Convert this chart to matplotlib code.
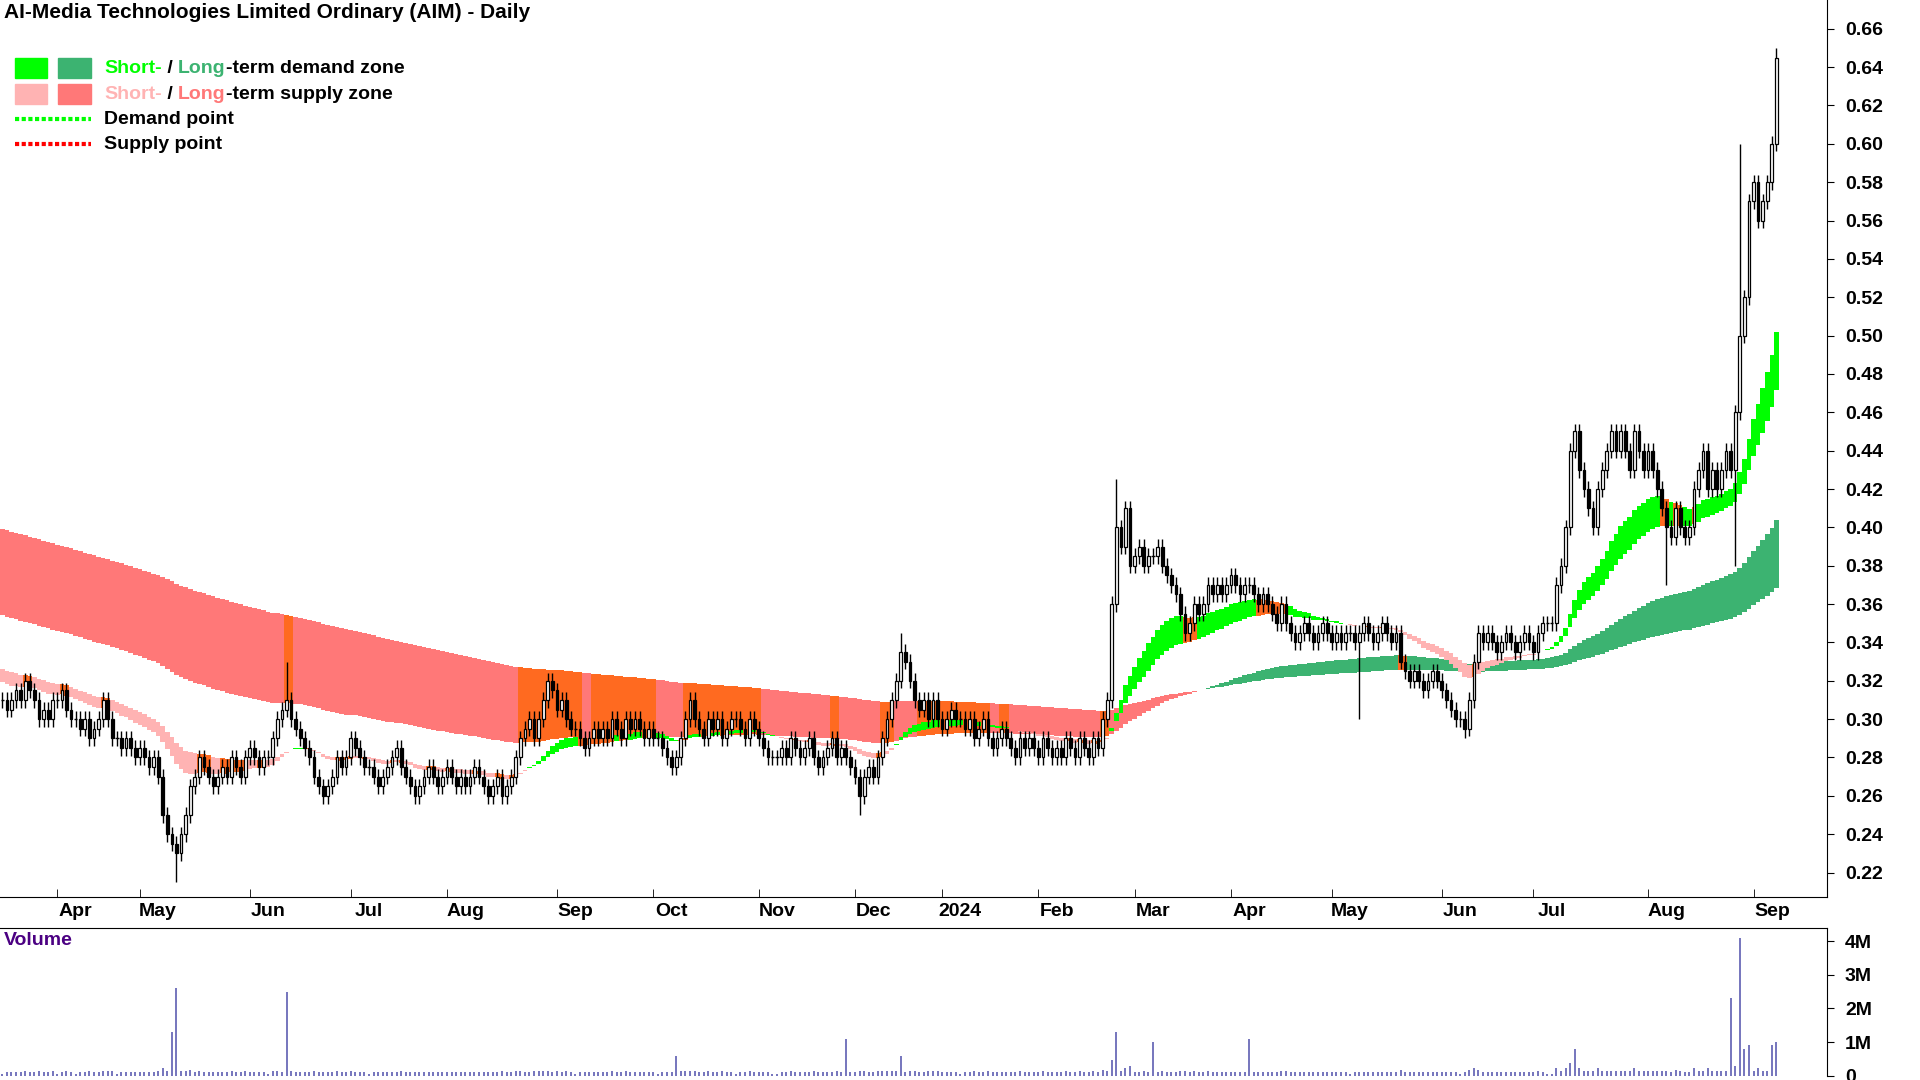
import numpy as np
import matplotlib
matplotlib.use("Agg")
import matplotlib.pyplot as plt
from matplotlib.patches import Rectangle
from matplotlib.lines import Line2D

plt.rcParams['font.family'] = ['Liberation Sans', 'DejaVu Sans']

months = ["", "Apr", "May", "Jun", "Jul", "Aug", "Sep", "Oct", "Nov", "Dec", "2024",
          "Feb", "Mar", "Apr", "May", "Jun", "Jul", "Aug", "Sep"]
closes_by_month = [
    [.31,.305,.31,.315,.31,.32,.315,.31,.30,.305,.30,.31,.31,.315,.305,.30],
    [.30,.295,.30,.29,.295,.30,.31,.30,.29,.29,.285,.29,.285,.28,.285,.28,.275,.28],
    [.27,.25,.24,.235,.23,.24,.25,.265,.27,.28,.275,.27,.265,.27,.275,.27,.28,.275,.27,.28,.285,.28,.275,.28],
    [.28,.29,.30,.305,.31,.30,.295,.29,.285,.28,.27,.265,.26,.265,.27,.28,.275,.28,.29,.285,.28,.275],
    [.275,.27,.265,.27,.275,.28,.285,.275,.27,.265,.26,.265,.27,.275,.27,.265,.27,.275,.27,.265,.27],
    [.265,.27,.275,.27,.265,.26,.265,.27,.26,.265,.27,.28,.29,.295,.30,.29,.30,.31,.32,.315,.305,.31,.30,.295],
    [.295,.29,.285,.29,.295,.29,.295,.29,.30,.295,.29,.30,.295,.30,.295,.29,.295,.29,.29,.285,.28],
    [.275,.28,.29,.30,.31,.30,.295,.29,.30,.295,.30,.29,.295,.30,.30,.295,.29,.30,.295,.29,.285,.28,.28],
    [.28,.285,.28,.29,.285,.28,.285,.29,.28,.275,.28,.285,.29,.28,.285,.28,.275,.27,.26,.27,.275],
    [.27,.28,.29,.30,.31,.32,.335,.33,.32,.31,.305,.31,.30,.31,.30,.295,.30,.305,.30],
    [.30,.295,.30,.29,.295,.30,.29,.285,.29,.295,.29,.285,.28,.29,.285,.29,.285,.28,.29,.285,.28],
    [.285,.28,.29,.285,.28,.29,.285,.28,.29,.285,.30,.31,.36,.40,.39,.41,.38,.385,.39,.38,.385],
    [.385,.39,.38,.375,.37,.365,.355,.345,.35,.36,.355,.36,.37,.365,.37,.365,.37,.375,.37,.365,.37],
    [.37,.365,.36,.365,.36,.355,.35,.36,.35,.345,.34,.345,.35,.345,.34,.345,.35,.345,.34,.345,.34,.345],
    [.345,.34,.345,.35,.345,.34,.345,.35,.345,.34,.345,.33,.325,.32,.325,.32,.315,.32,.325,.32,.315,.31,.305,.30],
    [.30,.295,.31,.33,.345,.34,.345,.34,.335,.34,.345,.34,.335,.34,.345,.34,.335,.345,.35,.35],
    [.35,.37,.38,.40,.44,.45,.43,.42,.41,.40,.42,.43,.44,.45,.44,.45,.44,.43,.45,.44,.43,.44,.43,.42,.41],
    [.40,.395,.41,.40,.395,.40,.42,.43,.44,.42,.43,.42,.43,.44,.43,.46,.50,.52,.57,.58,.56,.57,.58],
    [.60,.645],
]
# (month index, day in month, high, low) for notable wicks
wick_spikes = [(2,4,None,.215),(3,4,.33,None),(9,6,.345,None),(8,18,None,.25),
               (11,13,.425,None),(14,2,None,.30),(15,1,None,.29),(17,15,None,.38),
               (17,0,None,.37),(17,16,.60,None),(18,1,.65,None)]
# (month index, day in month, volume in millions)
volume_spikes = [(2,3,1.3),(2,4,2.6),(3,4,2.5),(11,13,1.3),(8,15,1.1),(12,0,1.0),
                 (13,0,1.1),(17,14,2.3),(17,16,4.1),(16,5,0.8),(18,1,1.0),(18,0,0.9),
                 (17,17,0.8),(17,18,0.9),(9,6,0.6),(7,1,0.6)]
ema_seeds = {"short_fast": .32, "short_slow": .327, "long_fast": .355, "long_slow": .40}
ema_spans = {"short_fast": 25, "short_slow": 40, "long_fast": 120, "long_slow": 250}

close = np.array([c for m in closes_by_month for c in m])
starts = np.cumsum([0] + [len(m) for m in closes_by_month[:-1]])
n = len(close)
x = np.arange(n)
opn = np.r_[close[0], close[:-1]]
high = np.maximum(opn, close) + 0.004
low = np.minimum(opn, close) - 0.004
for mi, d, h, l in wick_spikes:
    i = starts[mi] + d
    if h is not None: high[i] = h
    if l is not None: low[i] = l
vol = 0.06 + 8 * np.abs(close - opn)
for mi, d, v in volume_spikes:
    vol[starts[mi] + d] = v

def ema(vals, span, seed):
    a = 2 / (span + 1)
    out = np.empty_like(vals); e = seed
    for i, v in enumerate(vals):
        e = e + a * (v - e); out[i] = e
    return out
E = {k: ema(close, ema_spans[k], ema_seeds[k]) for k in ema_spans}

fig = plt.figure(figsize=(19.2, 10.8), dpi=100)
ax = fig.add_axes([0.0, 0.169, 0.9515, 0.831])
axv = fig.add_axes([0.0, 0.004, 0.9515, 0.137])

ORANGE = "#ff6a20"
def band(fast, slow, dem, sup):
    top = np.maximum(fast, slow); bot = np.minimum(fast, slow)
    bl = np.minimum(opn, close); bh = np.maximum(opn, close)
    cols = []
    for i in range(n):
        if bl[i] <= top[i] and bh[i] >= bot[i]:
            cols.append(ORANGE)
        else:
            cols.append(dem if fast[i] >= slow[i] else sup)
    ax.bar(x, top - bot, bottom=bot, width=1.0, color=cols, linewidth=0, zorder=1)

band(E["long_fast"], E["long_slow"], "#3cb371", "#ff7878")
band(E["short_fast"], E["short_slow"], "#00ff00", "#ffb3b3")

for i in range(n):
    ax.vlines(i, low[i], high[i], color="black", lw=1.0, zorder=3)
    b0, b1 = min(opn[i], close[i]), max(opn[i], close[i])
    if b1 - b0 < 0.0015:
        ax.hlines(close[i], i - 0.35, i + 0.35, color="black", lw=1.0, zorder=4)
    else:
        fc = "white" if close[i] >= opn[i] else "black"
        ax.add_patch(Rectangle((i - 0.3, b0), 0.6, b1 - b0, facecolor=fc,
                               edgecolor="black", lw=0.9, zorder=4))

ax.set_xlim(-0.5, 398)
ax.set_ylim(0.207, 0.675)
ax.yaxis.tick_right()
yt = np.round(np.arange(0.22, 0.661, 0.02), 2)
ax.set_yticks(yt)
ax.set_yticklabels([f"{v:.2f}" for v in yt], fontsize=14, fontweight="bold")
ax.tick_params(axis="y", direction="out", length=5, pad=8)
tick_pos = starts[1:]
ax.set_xticks(tick_pos)
ax.set_xticklabels(months[1:], fontsize=14, fontweight="bold")
ax.tick_params(axis="x", length=0, pad=4)
ax.set_xticks(tick_pos - 4, minor=True)
ax.tick_params(axis="x", which="minor", length=6, direction="in")
for s in ["top", "left"]:
    ax.spines[s].set_visible(False)
ax.text(0.002, 0.997, "AI-Media Technologies Limited Ordinary (AIM) - Daily",
        transform=ax.transAxes, fontsize=15, fontweight="bold", va="top")

def leg_row(yf, c1, c2, t1, t2, rest, line=False):
    if line:
        ax.add_line(Line2D([0.008, 0.05], [yf, yf], transform=ax.transAxes,
                           color=c1, lw=3, ls=(0, (1, 0.6))))
    else:
        ax.add_patch(Rectangle((0.008, yf - 0.011), 0.018, 0.022, transform=ax.transAxes, color=c1))
        ax.add_patch(Rectangle((0.032, yf - 0.011), 0.018, 0.022, transform=ax.transAxes, color=c2))
    tx = 0.057
    if t1:
        t = ax.text(tx, yf, t1, transform=ax.transAxes, fontsize=14, fontweight="bold", color=c1, va="center")
        t = ax.annotate(" / ", xycoords=t, xy=(1, 0.5), va="center", fontsize=14, fontweight="bold")
        t = ax.annotate(t2, xycoords=t, xy=(1, 0.5), va="center", fontsize=14, fontweight="bold", color=c2)
        ax.annotate(rest, xycoords=t, xy=(1, 0.5), va="center", fontsize=14, fontweight="bold")
    else:
        ax.text(tx, yf, rest, transform=ax.transAxes, fontsize=14, fontweight="bold", va="center")

leg_row(0.924, "#00ff00", "#3cb371", "Short-", "Long", "-term demand zone")
leg_row(0.895, "#ffb3b3", "#ff7878", "Short-", "Long", "-term supply zone")
leg_row(0.867, "#00ff00", None, None, None, "Demand point", line=True)
leg_row(0.839, "#ff0000", None, None, None, "Supply point", line=True)

axv.vlines(x, 0, vol, color="#6a6ab8", lw=1.3)
axv.set_xlim(ax.get_xlim())
axv.set_ylim(0, 4.4)
axv.yaxis.tick_right()
axv.set_yticks([0, 1, 2, 3, 4])
axv.set_yticklabels(["0", "1M", "2M", "3M", "4M"], fontsize=14, fontweight="bold")
axv.tick_params(axis="y", direction="out", length=5, pad=8)
axv.set_xticks([])
for s in ["left", "bottom"]:
    axv.spines[s].set_visible(False)
axv.text(0.002, 0.97, "Volume", transform=axv.transAxes, fontsize=14, fontweight="bold",
         color="#4b0082", va="top")

fig.savefig("out.png", dpi=100)
